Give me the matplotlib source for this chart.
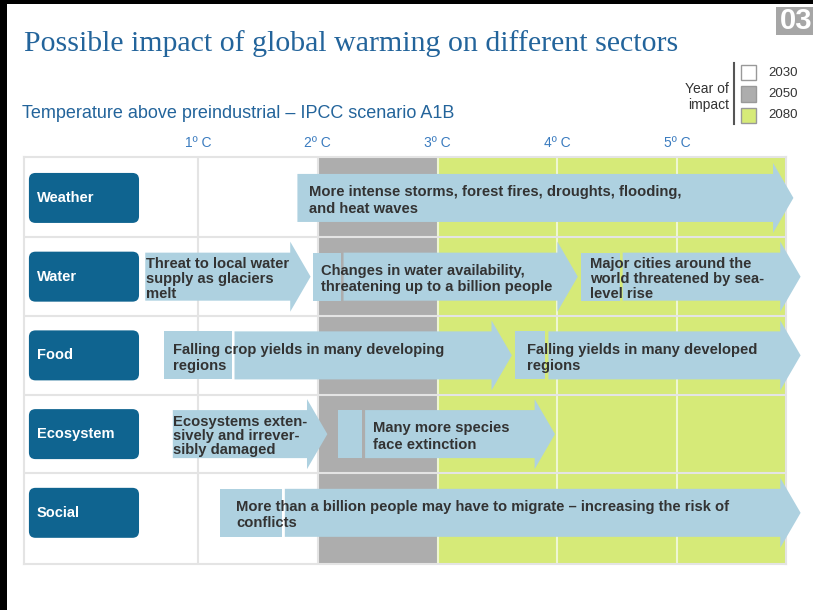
import matplotlib
matplotlib.use("Agg")
import matplotlib.pyplot as plt
from matplotlib.patches import Rectangle, FancyBboxPatch, FancyArrow

# ---- data ----
sectors = ["Weather", "Water", "Food", "Ecosystem", "Social"]
temps = [1, 2, 3, 4, 5]
temp_labels = ["1º C", "2º C", "3º C", "4º C", "5º C"]

zone_years = ["2030", "2050", "2080"]
zone_start = [None, 2, 3]   # None = left edge of the grid
zone_colors = ["#ffffff", "#adadad", "#d6ea78"]

impact_row = [0, 1, 1, 1, 2, 2, 3, 3, 4]
impact_start = [1.83, 0.56, 1.96, 4.20, 0.72, 3.65, 0.79, 2.17, 1.18]
impact_end = [5.97, 1.94, 4.17, 6.03, 3.62, 6.03, 2.08, 3.98, 6.03]
impact_split = [None, None, 2.19, 4.52, 1.28, 3.90, None, 2.37, 1.70]
impact_text = [
    "More intense storms, forest fires, droughts, flooding,\nand heat waves",
    "Threat to local water\nsupply as glaciers\nmelt",
    "Changes in water availability,\nthreatening up to a billion people",
    "Major cities around the\nworld threatened by sea-\nlevel rise",
    "Falling crop yields in many developing\nregions",
    "Falling yields in many developed\nregions",
    "Ecosystems exten-\nsively and irrever-\nsibly damaged",
    "Many more species\nface extinction",
    "More than a billion people may have to migrate – increasing the risk of\nconflicts",
]
# where the text starts, measured from the arrow start (deg C)
text_offset = [0.10, 0.01, 0.07, 0.07, 0.07, 0.10, 0.0, 0.29, 0.14]
text_spacing = [1.3, 1.1, 1.25, 1.1, 1.2, 1.2, 1.0, 1.3, 1.2]

# ---- style ----
W, H = 813, 610
BLUE = "#23649b"
TICK_BLUE = "#3a7bbf"
BOX_BLUE = "#0f6490"
ARROW = "#aed1e0"
GRID = "#e4e4e4"
TXT = "#333333"
XMIN, XMAX = -0.452, 5.908
YTOP, YBOT = -0.52, 4.65
BODY_H, HEAD_H, HEAD_L = 0.61, 0.89, 0.17
GAP = 0.025
TEXT_DY = 0.03

fig = plt.figure(figsize=(W / 100, H / 100), dpi=100)
fig.patch.set_facecolor("white")

ax = fig.add_axes([24 / W, (H - 564) / H, (786 - 24) / W, (564 - 157) / H])
ax.set_xlim(XMIN, XMAX)
ax.set_ylim(YBOT, YTOP)

# year-of-impact zones
for i, (start, col) in enumerate(zip(zone_start, zone_colors)):
    lo = XMIN if start is None else start
    hi = zone_start[i + 1] if i + 1 < len(zone_start) else XMAX
    ax.axvspan(lo, hi, color=col, lw=0, zorder=0)

# grid
for t in temps:
    ax.axvline(t, color=GRID if t < 3 else "#eef6d2", lw=1.5, zorder=1)
for r in range(len(sectors) - 1):
    ax.axhline(r + 0.5, color=GRID, lw=1.5, zorder=1)
for s in ax.spines.values():
    s.set_color(GRID)
    s.set_linewidth(1.5)

ax.xaxis.tick_top()
ax.set_xticks(temps)
ax.set_xticklabels(temp_labels, fontsize=10, color=TICK_BLUE, family="Liberation Sans")
ax.tick_params(axis="x", length=0, pad=5)
ax.set_yticks([])

# sector labels
for r, name in enumerate(sectors):
    box = FancyBboxPatch((-0.411, r - 0.3175), 0.919, 0.635,
                         boxstyle="round,pad=0,rounding_size=0.055",
                         mutation_aspect=1.52, fc=BOX_BLUE, ec="none", zorder=3)
    ax.add_patch(box)
    ax.text(-0.345, r, name, color="white", fontsize=10.5, fontweight="bold",
            family="Liberation Sans", va="center", ha="left", zorder=4)

# impact arrows
for row, x0, x1, sp, txt, off, ls in zip(impact_row, impact_start, impact_end,
                                         impact_split, impact_text, text_offset,
                                         text_spacing):
    a0 = x0
    if sp is not None:
        ax.add_patch(Rectangle((x0, row - BODY_H / 2), sp - x0, BODY_H,
                               fc=ARROW, ec="none", zorder=3, clip_on=False))
        a0 = sp + GAP
    arr = FancyArrow(a0, row, x1 - a0, 0, width=BODY_H, head_width=HEAD_H,
                     head_length=HEAD_L, length_includes_head=True,
                     fc=ARROW, ec="none", zorder=3, clip_on=False)
    ax.add_patch(arr)
    ax.text(x0 + off, row + TEXT_DY, txt, color=TXT, fontsize=10.6, fontweight="bold",
            family="Liberation Sans", va="center", ha="left", zorder=5,
            linespacing=ls)

# titles
fig.text(24 / W, 1 - 51 / H, "Possible impact of global warming on different sectors",
         fontsize=21.5, family="Liberation Serif", color=BLUE, va="baseline")
fig.text(22 / W, 1 - 118 / H, "Temperature above preindustrial – IPCC scenario A1B",
         fontsize=13, family="Liberation Sans", color=BLUE, va="baseline")

# legend
fig.text(729 / W, 1 - 97 / H, "Year of\nimpact", ha="right", va="center",
         fontsize=10, color=TXT, family="Liberation Sans", linespacing=1.1)
fig.add_artist(plt.Line2D([734 / W, 734 / W], [1 - 63 / H, 1 - 124 / H],
                          color="#555555", lw=1.5))
for i, (yr, col) in enumerate(zip(zone_years, zone_colors)):
    top = 65 + i * 21.5
    fig.add_artist(Rectangle((741 / W, 1 - (top + 15) / H), 15 / W, 15 / H,
                             fc=col, ec="#999999", lw=1, transform=fig.transFigure))
    fig.text(768 / W, 1 - (top + 7.5) / H, yr, va="center", ha="left",
             fontsize=9.5, color=TXT, family="Liberation Sans")

# page furniture
fig.add_artist(Rectangle((0, 0), 7 / W, 1, fc="black", ec="none", transform=fig.transFigure))
fig.add_artist(Rectangle((0, 1 - 4 / H), 1, 4 / H, fc="black", ec="none", transform=fig.transFigure))
fig.add_artist(Rectangle((776 / W, 1 - 35 / H), 37 / W, 28 / H, fc="#a6a6a6", ec="none",
                         transform=fig.transFigure))
fig.text(780 / W, 1 - 21 / H, "03", color="white", fontsize=21, fontweight="bold",
         family="Liberation Sans", va="center", ha="left")

fig.savefig("out.png", dpi=100)
